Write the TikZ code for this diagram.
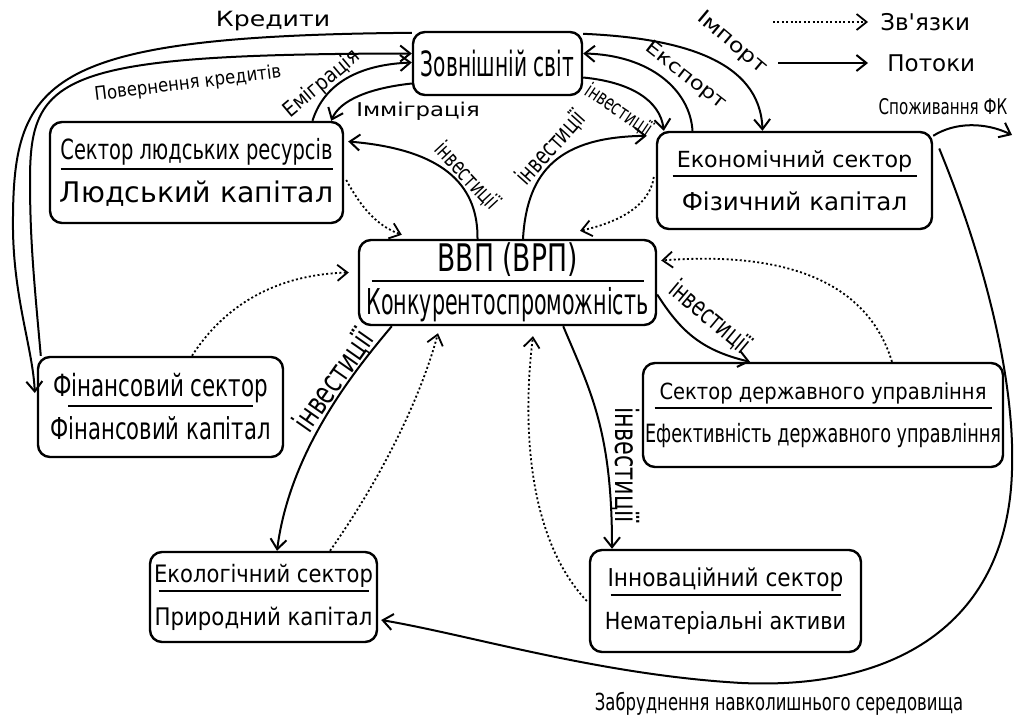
\documentclass[tikz,border=0pt]{standalone}
\usepackage{fontspec}
\setmainfont{DejaVu Sans}
\newfontfamily\narrowfont[FakeStretch=0.58]{DejaVu Sans}
\newfontfamily\condfont[FakeStretch=0.7]{DejaVu Sans}
\newfontfamily\semifont[FakeStretch=0.88]{DejaVu Sans}
\newfontfamily\widefont[FakeStretch=1.2]{DejaVu Sans}
\usetikzlibrary{arrows.meta}

\newcommand\fs[1]{\fontsize{#1}{#1}\selectfont}
\newcommand\sector[3]{#1\\[4.5pt]\rule[-0.5pt]{#2}{1pt}\\[17pt]#3}

\begin{document}
\begin{tikzpicture}[
		x=0.5pt, y=-0.5pt,
		sectorbox/.style={draw, line width=1.2pt, rounded corners=6pt, align=center,
		inner sep=1pt, font={\baselineskip=0pt\lineskiplimit=-100pt}},
		flow/.style={line width=1pt, -{Straight Barb[length=5pt,width=8pt]}},
		link/.style={line width=0.9pt, dash pattern=on 1pt off 1.2pt,
		-{Straight Barb[length=5pt,width=8pt]}},
		flowlabel/.style={inner sep=0pt},
		]

		\useasboundingbox (0,0) rectangle (1015,723);

		\node[sectorbox, minimum width=84.5pt, minimum height=31.5pt] (world) at (497.5,63.5)
		{\narrowfont\fs{17.4}Зовнішній світ};
		\node[sectorbox, minimum width=146.5pt, minimum height=50.5pt] (human) at (196.5,172.5)
		{\sector{\condfont\fs{13.9}Сектор людських ресурсів}{136pt}{\fs{14.2}Людський капітал}};
		\node[sectorbox, minimum width=137.5pt, minimum height=48.5pt] (econ) at (794.5,180.5)
		{\sector{\fs{11.1}Економічний сектор}{122pt}{\fs{12.3}Фізичний капітал}};
		\node[sectorbox, minimum width=148.5pt, minimum height=42.5pt] (gdp) at (507.5,282.5)
		{\sector{\condfont\fs{19}ВВП (ВРП)}{136pt}{\narrowfont\fs{17.8}Конкурентоспроможність}};
		\node[sectorbox, minimum width=122.5pt, minimum height=50pt] (fin) at (160.5,407)
		{\sector{\condfont\fs{15.3}Фінансовий сектор}{92.5pt}{\condfont\fs{15.1}Фінансовий капітал}};
		\node[sectorbox, minimum width=180pt, minimum height=52pt] (gov) at (823,415)
		{\sector{\semifont\fs{11.1}Сектор державного управління}{168.5pt}{\condfont\fs{12.6}Ефективність державного управління}};
		\node[sectorbox, minimum width=113.5pt, minimum height=45pt] (eco) at (263.5,597)
		{\sector{\semifont\fs{12}Екологічний сектор}{105pt}{\semifont\fs{12.1}Природний капітал}};
		\node[sectorbox, minimum width=135.5pt, minimum height=51pt] (innov) at (725.5,601)
		{\sector{\semifont\fs{12.3}Інноваційний сектор}{115pt}{\semifont\fs{11.8}Нематеріальні активи}};

		% flows
		\draw[flow] ([yshift=-1pt]world.north west) .. controls (40,36) and (12,80) .. (13,230)
		.. controls (14,300) and (33,350) .. ([xshift=-1pt,yshift=7pt]fin.west);
		\draw[flow] ([xshift=2pt]fin.north west) .. controls (34,280) and (30,240) .. (30,180)
		.. controls (30,75) and (60,54) .. ([yshift=5pt]world.west);
		\draw[flow] ([xshift=58pt]human.north) .. controls (322,90) and (350,65) .. ([yshift=0.5pt]world.west);
		\draw[flow] ([yshift=-10pt]world.west) .. controls (370,88) and (340,100) .. ([xshift=-6.5pt]human.north east);
		\draw[flow] ([xshift=-51pt]econ.north) .. controls (690,90) and (650,55) .. ([yshift=5pt]world.east);
		\draw[flow] ([yshift=-1.5pt]world.north east) .. controls (680,38) and (760,60) .. ([xshift=-16pt]econ.north);
		\draw[flow] ([yshift=-7pt]world.east) .. controls (630,82) and (660,100) .. ([xshift=4pt]econ.north west);

		\draw[flow] ([xshift=-15pt]gdp.north) .. controls (478,190) and (450,150) .. ([xshift=2pt,yshift=15.5pt]human.east);
		\draw[flow] ([xshift=7.75pt]gdp.north) .. controls (527,170) and (560,137) .. ([xshift=-4.5pt,yshift=-2.5pt]econ.north west);
		\draw[flow] ([xshift=17pt]gdp.south west) .. controls (355,370) and (290,450) .. ([xshift=6.75pt]eco.north);
		\draw[flow] ([xshift=-47pt]gdp.south east) .. controls (590,390) and (612,430) .. ([xshift=-56.75pt]innov.north);
		\draw[flow] ([yshift=-6pt]gdp.east) .. controls (680,330) and (700,350) .. ([xshift=-36.5pt]gov.north);

		\coordinate (consume-end) at (1012,135);
		\draw[flow] ([yshift=-2.5pt]econ.north east) .. controls (955,122) and (985,122) .. (consume-end);
		\draw[flow] ([xshift=3pt,yshift=16pt]econ.east) .. controls (985,260) and (1015,380) .. (1012,470)
		.. controls (1008,620) and (900,690) .. (742,683)
		.. controls (600,675) and (470,635) .. ([xshift=1.5pt,yshift=-11.5pt]eco.east);

		% links
		\draw[link] ([xshift=1pt,yshift=-3.75pt]human.east) .. controls (360,205) and (375,225) .. ([xshift=22pt,yshift=2pt]gdp.north west);
		\draw[link] ([xshift=-1pt,yshift=1.75pt]econ.west) .. controls (650,205) and (620,222) .. ([xshift=36.25pt,yshift=4pt]gdp.north);
		\draw[link] ([xshift=34.5pt]gov.north) .. controls (870,290) and (800,250) .. ([xshift=2pt,yshift=11pt]gdp.east);
		\draw[link] ([xshift=15.75pt]fin.north) .. controls (215,320) and (260,275) .. ([xshift=-4.5pt,yshift=5pt]gdp.west);
		\draw[link] ([xshift=33.25pt]eco.north) .. controls (380,480) and (420,400) .. ([xshift=-34.75pt,yshift=-3.5pt]gdp.south);
		\draw[link] ([xshift=-1pt]innov.west) .. controls (520,530) and (525,400) .. ([xshift=12.75pt,yshift=-5pt]gdp.south);

		% labels
		\node[flowlabel, font=\widefont\fs{10.5}] (lbl-credit) at (273,21) {Кредити};
		\node[flowlabel, font=\semifont\fs{9.4}, rotate=7] (lbl-repay) at (188,84) {Повернення кредитів};
		\node[flowlabel, font=\semifont\fs{10.6}, rotate=40] (lbl-emig) at (322,84) {Еміграція};
		\node[flowlabel, font=\widefont\fs{9.5}] (lbl-immig) at (418,111) {Імміграція};
		\node[flowlabel, font=\widefont\fs{9.5}, rotate=-38] (lbl-export) at (686,76) {Експорт};
		\node[flowlabel, font=\widefont\fs{10}, rotate=-40] (lbl-import) at (732,43) {Імпорт};
		\node[flowlabel, font=\condfont\fs{10.5}, rotate=-34] (lbl-inv-world) at (619,110) {інвестиції};
		\node[flowlabel, font=\condfont\fs{11.5}, rotate=-47] (lbl-inv-human) at (467,176) {інвестиції};
		\node[flowlabel, font=\condfont\fs{12.5}, rotate=48] (lbl-inv-econ) at (551,148) {інвестиції};
		\node[flowlabel, font=\condfont\fs{16}, rotate=55] (lbl-inv-eco) at (334,381) {інвестиції};
		\node[flowlabel, font=\condfont\fs{16}, rotate=-90] (lbl-inv-innov) at (625,465) {інвестиції};
		\node[flowlabel, font=\condfont\fs{13.5}, rotate=-40] (lbl-inv-gov) at (710,317) {інвестиції};
		\node[flowlabel, font=\condfont\fs{10.8}] (lbl-consume) at (943,107) {Споживання ФК};
		\node[flowlabel, font=\condfont\fs{11.75}] (lbl-pollution) at (779,704) {Забруднення навколишнього середовища};

		% legends
		\coordinate (lg-links-start) at (773,22);
		\node[anchor=west, inner xsep=6pt, font=\fs{11.5}] (lg-links) at (868,22) {Зв\textquotesingle язки};
		\draw[link] (lg-links-start) -- (lg-links.west);
		\coordinate (lg-flows-start) at (778,63);
		\node[anchor=west, inner xsep=9.5pt, font=\fs{11.5}] (lg-flows) at (868,63) {Потоки};
		\draw[flow] (lg-flows-start) -- (lg-flows.west);

	\end{tikzpicture}
\end{document}
